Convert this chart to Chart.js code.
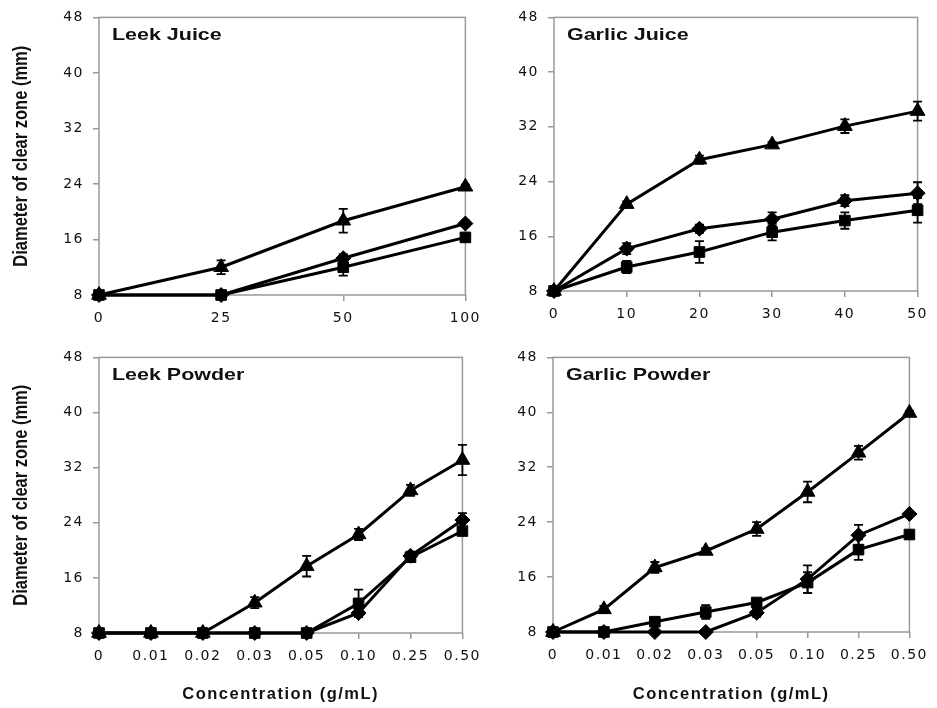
<!DOCTYPE html>
<html>
<head>
<meta charset="utf-8">
<script src="https://cdn.jsdelivr.net/npm/chart.js@4.4.1/dist/chart.umd.min.js"></script>
<style>
  body { margin: 0; background: #fff; width: 937px; height: 708px; position: relative; overflow: hidden; }
  canvas { position: absolute; }
</style>
</head>
<body>
<canvas id="leekJuice" width="490" height="340" style="left:0;top:0"></canvas>
<canvas id="garlicJuice" width="457" height="340" style="left:480px;top:0"></canvas>
<canvas id="leekPowder" width="490" height="368" style="left:0;top:340px"></canvas>
<canvas id="garlicPowder" width="457" height="368" style="left:480px;top:340px"></canvas>
<script>
// y axis ticks shared by all four panels
const yTicks = [8, 16, 24, 32, 40, 48];

// Leek juice (%)
const leekJuiceLabels = ["0", "25", "50", "100"];
const leekJuiceTri = [8, 12, 18.7, 23.6];
const leekJuiceTriErr = [0, 1, 1.7, 0.3];
const leekJuiceDia = [8, 8, 13.3, 18.3];
const leekJuiceDiaErr = [0, 0, 0.6, 0.4];
const leekJuiceSq = [8, 8, 12, 16.3];
const leekJuiceSqErr = [0, 0, 1.2, 0.3];

// Garlic juice (%)
const garlicJuiceLabels = ["0", "10", "20", "30", "40", "50"];
const garlicJuiceTri = [8, 20.7, 27.2, 29.4, 32.1, 34.3];
const garlicJuiceTriErr = [0, 0.4, 0.6, 0.4, 1, 1.4];
const garlicJuiceDia = [8, 14.2, 17.1, 18.5, 21.2, 22.3];
const garlicJuiceDiaErr = [0, 0.8, 0.6, 1, 0.8, 1.6];
const garlicJuiceSq = [8, 11.5, 13.7, 16.6, 18.3, 19.8];
const garlicJuiceSqErr = [0, 0.9, 1.6, 1.2, 1.2, 1.8];

// powders (g/mL)
const powderLabels = ["0", "0.01", "0.02", "0.03", "0.05", "0.10", "0.25", "0.50"];
const leekPowderTri = [8, 8, 8, 12.4, 17.7, 22.3, 28.7, 33.1];
const leekPowderTriErr = [0, 0, 0, 0.8, 1.5, 0.8, 0.8, 2.2];
const leekPowderDia = [8, 8, 8, 8, 8, 10.9, 19.2, 24.4];
const leekPowderDiaErr = [0, 0, 0, 0, 0, 0.6, 0.6, 1];
const leekPowderSq = [8, 8, 8, 8, 8, 12.3, 19.0, 22.8];
const leekPowderSqErr = [0, 0, 0, 0, 0, 2, 0.5, 0.5];

const garlicPowderTri = [8, 11.3, 17.4, 19.8, 23, 28.4, 34.1, 39.9];
const garlicPowderTriErr = [0, 0.5, 0.8, 0.4, 1, 1.5, 1, 0.3];
const garlicPowderDia = [8, 8, 8, 8, 10.8, 15.7, 22.1, 25.2];
const garlicPowderDiaErr = [0, 0, 0, 0, 0.6, 2, 1.5, 0.3];
const garlicPowderSq = [8, 8, 9.5, 10.9, 12.3, 15.2, 20, 22.2];
const garlicPowderSqErr = [0, 0, 0.5, 1, 0.5, 1.5, 1.5, 0.3];

const FONT = '"Liberation Sans", Arial, sans-serif';
const TICK_FONT = '"DejaVu Sans", "Liberation Sans", sans-serif';
const yTitleText = "Diameter of clear zone (mm)";
const xTitleText = "Concentration (g/mL)";

Chart.defaults.font.family = FONT;
Chart.defaults.color = "#111";

// frame, error bars, panel titles, rotated y title
const panelDeco = {
  id: "panelDeco",
  beforeUpdate(chart) { chart.ctx.letterSpacing = "1.5px"; },
  beforeDraw(chart) { chart.ctx.letterSpacing = "1.5px"; },
  beforeDatasetsDraw(chart) {
    const ctx = chart.ctx, a = chart.chartArea;
    ctx.save();
    ctx.strokeStyle = "#999";
    ctx.lineWidth = 1.5;
    ctx.strokeRect(a.left, a.top, a.right - a.left, a.bottom - a.top);
    ctx.restore();
  },
  afterDatasetsDraw(chart) {
    const ctx = chart.ctx, y = chart.scales.y;
    ctx.save();
    ctx.strokeStyle = "#000";
    ctx.lineWidth = 1.8;
    chart.data.datasets.forEach((ds, i) => {
      chart.getDatasetMeta(i).data.forEach((pt, j) => {
        const e = ds.err[j];
        if (!e) return;
        const y1 = y.getPixelForValue(ds.data[j] + e);
        const y2 = y.getPixelForValue(ds.data[j] - e);
        ctx.beginPath();
        ctx.moveTo(pt.x, y1); ctx.lineTo(pt.x, y2);
        ctx.moveTo(pt.x - 4.5, y1); ctx.lineTo(pt.x + 4.5, y1);
        ctx.moveTo(pt.x - 4.5, y2); ctx.lineTo(pt.x + 4.5, y2);
        ctx.stroke();
      });
    });
    ctx.restore();
  },
  afterDraw(chart, args, o) {
    const ctx = chart.ctx, a = chart.chartArea;
    ctx.save();
    ctx.letterSpacing = "0px";
    ctx.fillStyle = "#111";
    ctx.translate(a.left + 13, a.top + 23);
    ctx.scale(1.3, 1);
    ctx.font = "bold 16.5px " + FONT;
    ctx.textAlign = "left";
    ctx.textBaseline = "alphabetic";
    ctx.fillText(o.title, 0, 0);
    ctx.restore();
    if (o.yTitle) {
      ctx.save();
      ctx.letterSpacing = "0px";
      ctx.fillStyle = "#111";
      ctx.translate(22, (a.top + a.bottom) / 2);
      ctx.rotate(-Math.PI / 2);
      ctx.scale(1, 1.2);
      ctx.font = "bold 16.5px " + FONT;
      ctx.textAlign = "center";
      ctx.textBaseline = "middle";
      ctx.fillText(o.yTitle, 0, 0);
      ctx.restore();
    }
  }
};

function series(data, err, style, r) {
  return {
    data: data, err: err,
    pointStyle: style, pointRadius: r, pointHoverRadius: r,
    borderColor: "#000", backgroundColor: "#000",
    pointBackgroundColor: "#000", pointBorderColor: "#000", pointBorderWidth: 1,
    borderWidth: 3, tension: 0, clip: false
  };
}

function panel(id, labels, tri, triErr, dia, diaErr, sq, sqErr, box) {
  const grid = { drawOnChartArea: false, drawTicks: true, tickLength: 6, color: "#999", lineWidth: 1.5 };
  return new Chart(document.getElementById(id), {
    type: "line",
    data: {
      labels: labels,
      datasets: [
        series(tri, triErr, "triangle", 8.5),
        series(dia, diaErr, "rectRot", 7.5),
        series(sq, sqErr, "rect", 7.5)
      ]
    },
    options: {
      responsive: false,
      animation: false,
      events: [],
      layout: { padding: { top: box.top, right: box.right, left: 0, bottom: 0 } },
      plugins: {
        legend: { display: false },
        tooltip: { enabled: false },
        panelDeco: { title: box.title, yTitle: box.yTitle }
      },
      scales: {
        x: {
          type: "category",
          offset: false,
          border: { display: false },
          grid: grid,
          ticks: { padding: 9, font: { family: TICK_FONT, size: 14 }, color: "#111", maxRotation: 0, autoSkip: false },
          title: { display: !!box.xTitle, text: box.xTitle || "", font: { size: 16.5, weight: "bold" }, color: "#111", padding: { top: 4, bottom: 4 } },
          afterFit: s => { s.height = box.xh; }
        },
        y: {
          min: 8, max: 48,
          border: { display: false },
          grid: grid,
          afterBuildTicks: s => { s.ticks = yTicks.map(v => ({ value: v })); },
          ticks: { padding: 9, font: { family: TICK_FONT, size: 14 }, color: "#111" },
          afterFit: s => { s.width = box.yw; }
        }
      }
    },
    plugins: [panelDeco]
  });
}

panel("leekJuice", leekJuiceLabels, leekJuiceTri, leekJuiceTriErr, leekJuiceDia, leekJuiceDiaErr, leekJuiceSq, leekJuiceSqErr,
  { title: "Leek Juice", yTitle: yTitleText, top: 15, right: 22, xh: 45, yw: 99 });
panel("garlicJuice", garlicJuiceLabels, garlicJuiceTri, garlicJuiceTriErr, garlicJuiceDia, garlicJuiceDiaErr, garlicJuiceSq, garlicJuiceSqErr,
  { title: "Garlic Juice", top: 15, right: 14, xh: 49, yw: 74 });
panel("leekPowder", powderLabels, leekPowderTri, leekPowderTriErr, leekPowderDia, leekPowderDiaErr, leekPowderSq, leekPowderSqErr,
  { title: "Leek Powder", yTitle: yTitleText, xTitle: xTitleText, top: 15, right: 21, xh: 75, yw: 99 });
panel("garlicPowder", powderLabels, garlicPowderTri, garlicPowderTriErr, garlicPowderDia, garlicPowderDiaErr, garlicPowderSq, garlicPowderSqErr,
  { title: "Garlic Powder", xTitle: xTitleText, top: 17, right: 18, xh: 76, yw: 73 });
</script>
</body>
</html>
